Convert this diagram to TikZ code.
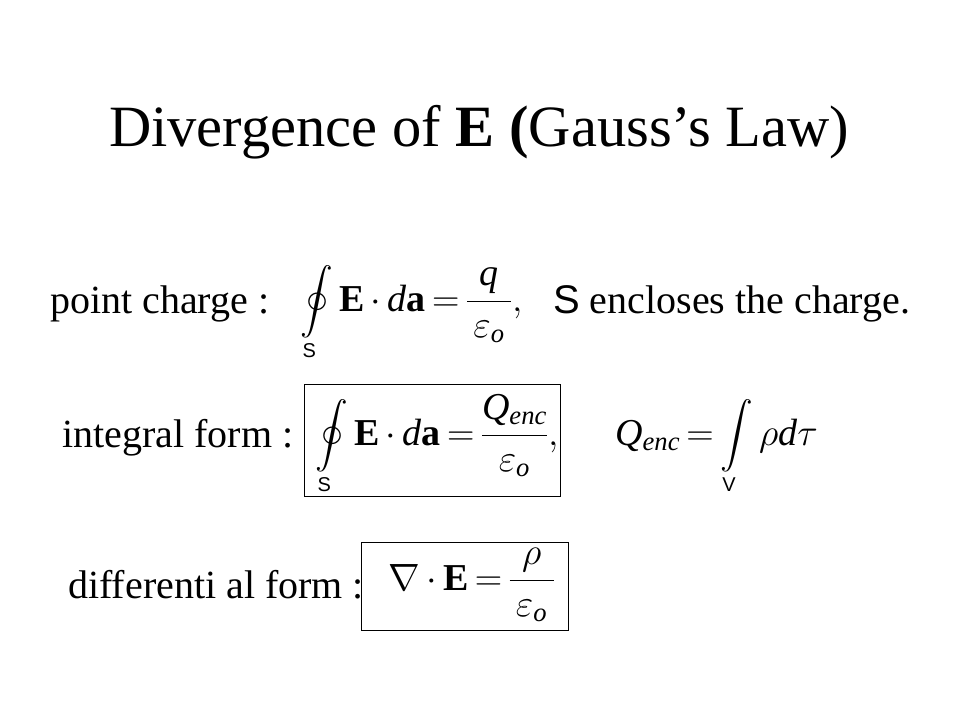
\RequirePackage{fix-cm}
\documentclass[tikz,border=0pt]{standalone}
\usepackage{amsmath}
\usepackage{exscale}
\DeclareFontShape{OMX}{cmex}{m}{n}{<->s*[0.86]cmex10}{}
\usepackage{fontspec}
\setmainfont{Liberation Serif}
\setsansfont{Liberation Sans}
\setmathrm{Liberation Serif}
\newcommand{\lims}[1]{\textsf{\fontsize{20}{20}\selectfont #1}}
\newcommand{\tightrel}{\thickmuskip=3mu\relax\medmuskip=3mu\relax}
\begin{document}
\begin{tikzpicture}[x=1pt,y=-1pt,
    lbl/.style={anchor=base west,inner sep=0pt,font=\fontsize{40}{48}\selectfont},
    eqn/.style={anchor=base west,inner sep=0pt,font=\fontsize{38}{46}\selectfont},
    eqbox/.style={draw,line width=1pt,inner sep=0pt}]
    \useasboundingbox[fill=white] (0,0) rectangle (960,720);
    \node[anchor=base west,inner sep=0pt,font=\fontsize{58.5}{70}\selectfont] (title) at (109,146)
        {Divergence of \textbf{E} \textbf{(}Gauss’s Law)};
    % point charge
    \node[lbl] (pclabel) at (50,313) {point charge :};
    \node[eqn] (pceq) at (300,311)
        {$\tightrel\displaystyle\oint\limits_{\lims{S}}\mathbf{E}\cdot \mathit{d}\mathbf{a}=\frac{\mathit{q}}{\,\varepsilon_{\mathit{o}}\,},$};
    \node[lbl] (pcnote) at (553,313) {\textsf{S} encloses the charge.};
    % integral form
    \node[lbl] (iflabel) at (62,447) {integral form :};
    \node[eqbox,minimum width=256,minimum height=112] (ifbox) at (432,440) {};
    \node[eqn] (ifeq) at (315,445)
        {$\tightrel\displaystyle\oint\limits_{\lims{S}}\mathbf{E}\cdot \mathit{d}\mathbf{a}=\frac{\mathit{Q}_{\mathit{enc}}}{\varepsilon_{\mathit{o}}},$};
    \node[eqn] (qeq) at (615,445)
        {$\tightrel\displaystyle \mathit{Q}_{\mathit{enc}}=\int\limits_{\lims{V}}\rho\mathit{d}\tau$};
    % differential form
    \node[lbl] (dflabel) at (68,598) {differenti al form :};
    \node[eqbox,minimum width=207,minimum height=88] (dfbox) at (464.5,586) {};
    \node[eqn] (dfeq) at (388,590)
        {$\tightrel\displaystyle\nabla\cdot\mathbf{E}=\frac{\rho}{\,\varepsilon_{\mathit{o}}\,}$};
\end{tikzpicture}
\end{document}
